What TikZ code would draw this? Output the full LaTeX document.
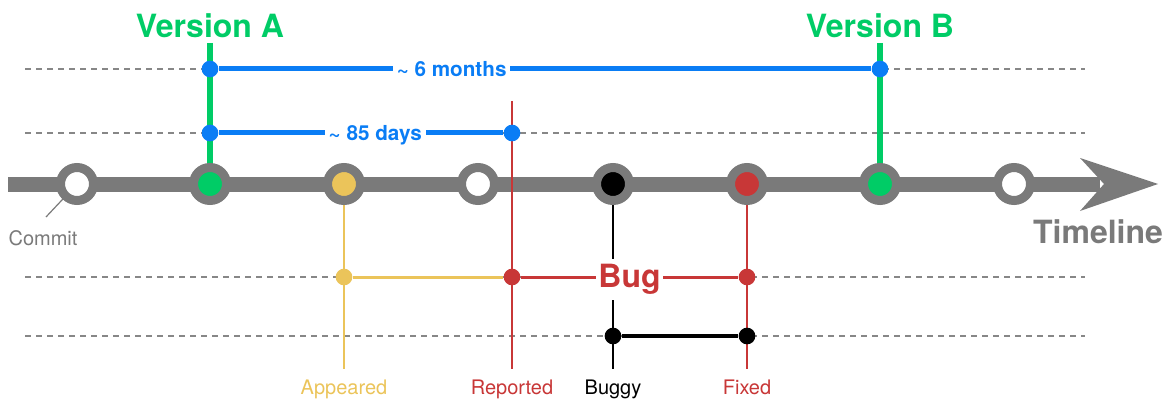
\documentclass[tikz,border=0pt]{standalone}
\usepackage{fontspec}
\setmainfont{TeX Gyre Heros}
\usepackage{tikz}
\usetikzlibrary{calc}
\definecolor{tlgray}{RGB}{122,122,122}
\definecolor{dashgray}{RGB}{135,135,135}
\definecolor{vgreen}{RGB}{0,204,102}
\definecolor{spanblue}{RGB}{10,125,245}
\definecolor{bugred}{RGB}{200,55,55}
\definecolor{bugyellow}{RGB}{235,196,90}
\tikzset{
  commit/.style={circle,draw=tlgray,line width=6.75pt,minimum size=24.75pt,inner sep=0pt,fill=#1},
  dot/.style={circle,fill=#1,minimum size=12.5pt,inner sep=0pt},
  guide/.style={dashgray,line width=1.1pt,dash pattern=on 4.5pt off 3.75pt},
  lbl/.style={font=\fontsize{15}{18}\selectfont,anchor=base},
  big/.style={font=\fontsize{24}{28}\selectfont\bfseries,anchor=base},
  span/.style={font=\fontsize{15.5}{18}\selectfont\bfseries,fill=white,inner xsep=3pt,text depth=0pt,text=spanblue},
}

\begin{document}
\begin{tikzpicture}[x=0.75pt,y=-0.75pt]
  \useasboundingbox (0,0) rectangle (1176,399);
  \foreach \y in {69,133,277,336}
    \draw[guide] (25,\y) -- (1085,\y);
  \foreach \x [count=\i] in {77,210,344,478,613,747,880,1014}
    \coordinate (p\i) at (\x,184);
  \coordinate (tlstart) at (8,184);
  \coordinate (tlend) at (1100,184);
  \coordinate (reptop) at (512,101);
  \coordinate (cptr) at (46,217);
  \node[big,text=vgreen] (verA) at (210,38) {Version A};
  \node[big,text=vgreen] (verB) at (880,38) {Version B};
  \node[big,text=tlgray] (tl) at (1098,243) {Timeline};
  \node[lbl,text=tlgray] (lcommit) at (43,245) {Commit};
  \node[lbl,text=bugyellow] (lapp) at (344,394) {Appeared};
  \node[lbl,text=bugred] (lrep) at (512,394) {Reported};
  \node[lbl,text=black] (lbuggy) at (613,394) {Buggy};
  \node[lbl,text=bugred] (lfix) at (747,394) {Fixed};
  \draw[bugyellow,line width=1.1pt,shorten >=4pt] (p3) -- (lapp.north);
  \draw[black,line width=1.1pt,shorten >=4pt] (p5) -- (lbuggy.north);
  \draw[bugred,line width=1.1pt,shorten >=4pt] (p6) -- (lfix.north);
  \draw[vgreen,line width=4.5pt] (verA.south) -- (p2);
  \draw[vgreen,line width=4.5pt] (verB.south) -- (p7);
  \draw[tlgray,line width=11.25pt] (tlstart) -- (tlend);
  \fill[tlgray] (1080,158) -- (1158,184) -- (1080,211) -- (1104,184) -- cycle;
  \draw[bugred,line width=1.1pt,shorten >=4pt] (reptop) -- (lrep.north);
  \draw[tlgray,line width=0.9pt] (cptr) -- (p1);
  \foreach \i/\c in {1/white,2/vgreen,3/bugyellow,4/white,5/black,6/bugred,7/vgreen,8/white}
    \node[commit=\c] (c\i) at (p\i) {};
  \node[dot=spanblue] (vA1) at (210,69) {};
  \node[dot=spanblue] (vB1) at (880,69) {};
  \node[dot=spanblue] (vA2) at (210,133) {};
  \node[dot=spanblue] (rep1) at (512,133) {};
  \node[dot=bugyellow] (app) at (344,277) {};
  \node[dot=bugred] (rep2) at (512,277) {};
  \node[dot=bugred] (fix1) at (747,277) {};
  \node[dot=black] (bug1) at (613,336) {};
  \node[dot=black] (fix2) at (747,336) {};
  \draw[spanblue,line width=3.75pt] (vA1) -- node[span,pos=0.357] {\textasciitilde{} 6 months} (vB1);
  \draw[spanblue,line width=3.75pt] (vA2) -- node[span,pos=0.55] {\textasciitilde{} 85 days} (rep1);
  \draw[bugyellow,line width=2.25pt] (app) -- (rep2);
  \draw[bugred,line width=2.25pt] (rep2) -- node[font=\fontsize{24}{28}\selectfont\bfseries,text=bugred,fill=white,inner xsep=1.5pt,inner ysep=4pt,yshift=-2pt] {Bug} (fix1);
  \draw[black,line width=3pt] (bug1) -- (fix2);
\end{tikzpicture}
\end{document}
